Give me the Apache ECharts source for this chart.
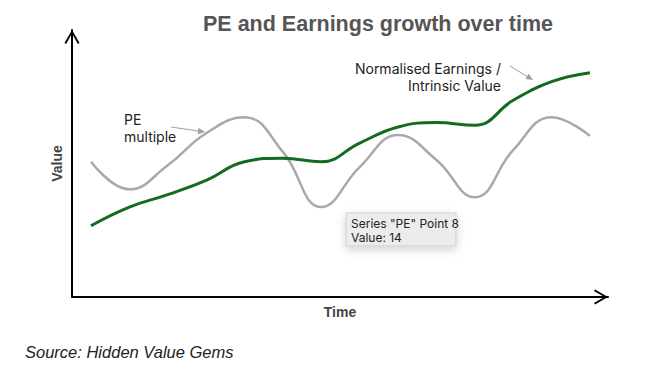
<!DOCTYPE html>
<html>
<head>
<meta charset="utf-8">
<script src="https://cdn.jsdelivr.net/npm/echarts@6/dist/echarts.min.js"></script>
<style>
html,body{margin:0;padding:0;background:#fff;}
#chart{width:664px;height:369px;}
</style>
</head>
<body>
<div id="chart"></div>
<script>
// ---- data ----
const timePoints = [0, 1, 2, 3, 4, 5, 6, 7, 8, 9, 10, 11, 12, 13];
const peValues = [15.2, 12.1, 14.8, 18.4, 20.2, 16.3, 10.1, 14.6, 18.2, 15.4, 11.2, 16.5, 20.2, 18.1];
const earningsValues = [8.0, 10.1, 11.5, 13.1, 15.2, 15.6, 15.2, 17.3, 19.1, 19.6, 19.3, 22.1, 24.2, 25.2];
const titleText = 'PE and Earnings growth over time';
const peLabel = 'PE\nmultiple';
const earningsLabel = 'Normalised Earnings /\nIntrinsic Value';
const tooltipLines = ['Series "PE" Point 8', 'Value: 14'];
const sourceText = 'Source: Hidden Value Gems';

const chart = echarts.init(document.getElementById('chart'), null, {renderer: 'svg'});

const chevron = 'path://M0,13 L7.5,0 L15,13 L13.4,14 L7.5,3.6 L1.6,14 Z';
function makeAxisLine() {
  return {
    show: true,
    onZero: false,
    symbol: ['none', chevron],
    symbolSize: [15, 14],
    symbolOffset: [0, -7],
    lineStyle: {color: '#000', width: 2}
  };
}
const nameStyle = {fontFamily: 'Liberation Sans, Arial, sans-serif', fontWeight: 'bold', fontSize: 14, color: '#444'};

function arrow(x1, y1, x2, y2, color) {
  const ang = Math.atan2(y2 - y1, x2 - x1);
  const len = 7, hw = 3.2;
  const bx = x2 - len * Math.cos(ang), by = y2 - len * Math.sin(ang);
  const px = -Math.sin(ang) * hw, py = Math.cos(ang) * hw;
  return [
    {type: 'line', shape: {x1: x1, y1: y1, x2: bx, y2: by}, style: {stroke: color, lineWidth: 1}, silent: true},
    {type: 'polygon', shape: {points: [[x2, y2], [bx + px, by + py], [bx - px, by - py]]}, style: {fill: color}, silent: true}
  ];
}

const annFont = {fontFamily: 'Inter, Liberation Sans, sans-serif', fontSize: 14, fill: '#222', lineHeight: 17};

const option = {
  animation: false,
  backgroundColor: '#fff',
  grid: {left: 72, right: 56, top: 30, bottom: 72},
  xAxis: {
    type: 'value', min: -0.495, max: 13.47,
    name: 'Time', nameLocation: 'middle', nameGap: 8, nameTextStyle: nameStyle,
    axisLine: makeAxisLine(), axisTick: {show: false}, axisLabel: {show: false}, splitLine: {show: false}
  },
  yAxis: {
    type: 'value', min: 0, max: 30,
    name: 'Value', nameLocation: 'middle', nameGap: 8, nameRotate: 90, nameTextStyle: nameStyle,
    axisLine: makeAxisLine(), axisTick: {show: false}, axisLabel: {show: false}, splitLine: {show: false}
  },
  series: [
    {
      name: 'PE', type: 'line', smooth: 0.45, showSymbol: false, silent: true,
      lineStyle: {color: '#a9a9a9', width: 2.5},
      data: timePoints.map((t, i) => [t, peValues[i]])
    },
    {
      name: 'Earnings', type: 'line', smooth: 0.45, showSymbol: false, silent: true,
      lineStyle: {color: '#136b1f', width: 3},
      data: timePoints.map((t, i) => [t, earningsValues[i]])
    }
  ],
  graphic: [
    {type: 'text', left: 203, top: 13, style: {text: titleText, fontFamily: 'Liberation Sans, Arial, sans-serif', fontWeight: 'bold', fontSize: 21.5, fill: '#555'}},
    {type: 'text', x: 124, y: 111, style: Object.assign({text: peLabel, textAlign: 'left'}, annFont)},
    {type: 'text', x: 501, y: 60, style: Object.assign({text: earningsLabel, textAlign: 'right'}, annFont)},
    ...arrow(171, 127, 205, 132, '#a0a0a0'),
    ...arrow(510, 66, 533, 80, '#a0a0a0'),
    {
      type: 'group', x: 346, y: 213,
      children: [
        {type: 'rect', shape: {x: 0, y: 0, width: 110, height: 33}, style: {fill: '#ececec', stroke: '#cfcfcf', lineWidth: 1, shadowBlur: 10, shadowColor: 'rgba(0,0,0,0.18)', shadowOffsetY: 3}},
        {type: 'text', x: 5, y: 3, style: {text: tooltipLines.join('\n'), fontFamily: 'Inter, Liberation Sans, sans-serif', fontSize: 12, fill: '#222', lineHeight: 14.5}}
      ]
    },
    {type: 'text', x: 25, y: 343, style: {text: sourceText, fontFamily: 'Liberation Sans, Arial, sans-serif', fontStyle: 'italic', fontSize: 16.5, fill: '#222'}}
  ]
};
chart.setOption(option);
</script>
</body>
</html>
